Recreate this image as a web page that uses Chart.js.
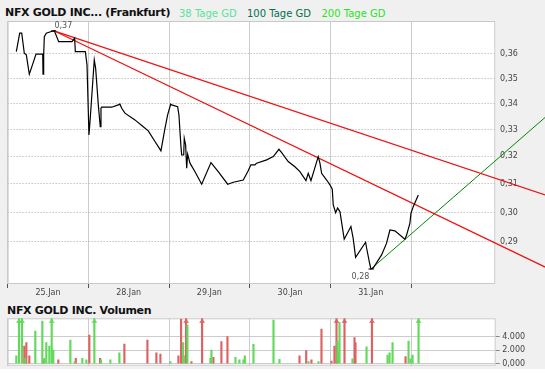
<!DOCTYPE html>
<html><head><meta charset="utf-8">
<script src="https://cdn.jsdelivr.net/npm/chart.js@4/dist/chart.umd.min.js"></script>
<style>
html,body{margin:0;padding:0;background:#fff;}
#wrap{position:relative;width:545px;height:384px;overflow:hidden;background:#fff;}
#bg{position:absolute;left:0;top:0;width:545px;height:369px;background:#f0f0f0;}
canvas{position:absolute;left:0;}
.t{position:absolute;font-family:"DejaVu Sans";white-space:nowrap;line-height:13px;}
.b{font-weight:bold;font-size:11px;letter-spacing:-0.3px;color:#111;}
.l{font-size:10px;}
</style></head><body>
<div id="wrap">
<div id="bg"></div>
<div class="t b" style="left:5px;top:6.4px;">NFX GOLD INC... (Frankfurt)</div>
<div class="t l" style="left:179px;top:6.7px;color:#55e39a;">38 Tage GD</div>
<div class="t l" style="left:247px;top:6.7px;color:#00704f;">100 Tage GD</div>
<div class="t l" style="left:321.5px;top:6.7px;color:#1ee61e;">200 Tage GD</div>
<div class="t b" style="left:7px;top:303.7px;">NFX GOLD INC. Volumen</div>
<canvas id="main" width="545" height="300" style="top:0"></canvas>
<canvas id="vol" width="545" height="84" style="top:300px"></canvas>
</div>
<script>
// ---- data ----
const dayLabels = ['25.Jan','28.Jan','29.Jan','30.Jan','31.Jan'];
const priceTicks = [0.29,0.30,0.31,0.32,0.33,0.34,0.35,0.36];
const priceX = [0.108,0.150,0.175,0.207,0.232,0.269,0.311,0.352,0.435,0.439,0.447,0.455,0.479,0.541,0.571,0.583,0.633,0.798,0.831,0.839,
  0.963,0.984,1.008,1.021,1.074,1.091,1.124,1.148,1.157,1.166,1.290,1.371,1.392,1.414,1.454,1.578,1.681,1.743,1.826,1.867,
  1.900,1.950,1.983,2.021,2.033,2.107,2.123,2.148,2.157,2.182,2.189,2.206,2.219,2.231,2.260,2.322,2.405,2.520,2.610,2.727,
  2.796,2.920,2.975,3.015,3.065,3.086,3.210,3.292,3.362,3.396,3.477,3.560,3.622,3.697,3.725,3.759,3.849,3.870,3.891,3.953,
  3.994,4.023,4.035,4.065,4.089,4.118,4.171,4.254,4.282,4.312,4.436,4.449,4.490,4.502,4.530,4.634,4.696,4.737,4.799,4.923,
  4.944,4.985,4.998,5.026,5.089];
const priceY = [0.3610,0.3687,0.3687,0.3603,0.3596,0.3517,0.3558,0.3599,0.3599,0.3517,0.3596,0.3672,0.3687,0.3694,0.3697,0.3694,0.3651,0.3651,0.3666,0.3610,
  0.3610,0.3555,0.3280,0.3330,0.3575,0.3541,0.3395,0.3311,0.3382,0.3386,0.3386,0.3395,0.3398,0.3382,0.3363,0.3337,0.3311,0.3295,0.3255,0.3236,
  0.3220,0.3305,0.3356,0.3398,0.3395,0.3388,0.3356,0.3236,0.3205,0.3205,0.3267,0.3242,0.3157,0.3208,0.3175,0.3144,0.3099,0.3177,0.3144,0.3099,
  0.3106,0.3114,0.3144,0.3169,0.3169,0.3175,0.3187,0.3199,0.3226,0.3214,0.3181,0.3162,0.3144,0.3112,0.3138,0.3112,0.3199,0.3175,0.3138,0.3114,
  0.3097,0.3081,0.3026,0.2999,0.3015,0.3003,0.2909,0.2952,0.2912,0.2849,0.2899,0.2879,0.2824,0.2811,0.2814,0.2857,0.2896,0.2940,0.2937,0.2909,
  0.2923,0.2963,0.2997,0.3020,0.3061];
const trendUpperX = [0.575, 6.695];
const trendUpperY = [0.3697, 0.3058];
const trendLowerX = [0.575, 6.695];
const trendLowerY = [0.3697, 0.2813];
const supportX = [4.502, 6.695];
const supportY = [0.2811, 0.3356];

const volTicks = [0, 2000, 4000];
const volTickLabels = ['0,000', '2.000', '4.000'];
const volUpX = [0.108,0.141,0.178,0.219,0.343,0.430,0.455,0.479,0.517,0.546,0.566,0.777,0.831,0.925,0.975,1.074,1.157,1.272,1.384,2.016,
  2.173,2.182,2.226,2.511,2.524,2.821,2.870,2.920,2.937,3.044,3.292,3.366,3.725,3.849,4.084,4.102,4.109,4.270,4.444,4.704,
  4.729,4.766,4.964,4.989,5.014,5.088];
const volUpY = [1140,8000,8000,800,4830,6300,800,3100,2600,8000,2000,3500,300,800,550,8000,550,550,1600,300,
  3100,1140,5700,800,2000,950,550,550,1140,2850,6450,650,300,300,3250,1920,6050,700,2500,1280,
  1600,3100,3350,700,1280,8000];
const volDownX = [0.207,0.232,0.269,0.439,0.628,0.844,1.012,1.145,1.446,1.731,1.842,1.892,2.115,2.148,2.210,2.276,2.408,2.548,2.647,2.722,
  3.614,3.697,3.762,3.886,4.010,4.047,4.072,4.171,4.295,4.307,4.511,4.927];
const volDownY = [2600,3100,1140,550,550,800,4240,800,2900,3500,1600,1430,1140,6600,8000,300,8000,950,3250,4000,
  1140,1920,550,5120,400,2600,8000,8000,3850,3100,8000,1030];

// ---- helpers ----
const pts = (xs, ys) => xs.map((x, i) => ({x: x, y: ys[i]}));
const fmt = v => v.toFixed(2).replace('.', ',');
Chart.defaults.font.family = 'DejaVu Sans';
Chart.defaults.font.size = 8;
Chart.defaults.color = '#444';

const frame = {
  id: 'frame',
  beforeDraw(chart) {
    const a = chart.chartArea, c = chart.ctx;
    c.save(); c.fillStyle = '#fff';
    c.fillRect(a.left, a.top, a.right - a.left, a.bottom - a.top);
    c.restore();
  },
  beforeDatasetsDraw(chart) {
    const a = chart.chartArea, c = chart.ctx;
    c.save(); c.strokeStyle = '#c8c8c8'; c.lineWidth = 1;
    c.strokeRect(a.left + 0.5, a.top + 0.5, a.right - a.left - 1, a.bottom - a.top - 1);
    c.restore();
  }
};

const xAxis = (show) => ({
  type: 'linear', min: 0, max: 6.043, bounds: 'data', offset: false,
  afterBuildTicks: s => { s.ticks = dayLabels.map((_, i) => ({value: i + 0.5})); },
  afterFit: s => { s.height = show ? 16 : 0; },
  ticks: {display: show, autoSkip: false, maxRotation: 0, padding: 0.5, color: '#444',
          callback: (v, i) => dayLabels[i]},
  grid: {offset: true, color: '#cccccc', lineWidth: 1, drawTicks: show, tickLength: 4, tickColor: '#555'},
  border: {display: false}
});

const extrema = {
  id: 'extrema',
  afterDatasetsDraw(chart) {
    const xs = chart.scales.x, ys = chart.scales.y, c = chart.ctx;
    let hi = 0, lo = 0;
    priceY.forEach((v, i) => { if (v > priceY[hi]) hi = i; if (v < priceY[lo]) lo = i; });
    const hx = xs.getPixelForValue(priceX[hi]), hy = ys.getPixelForValue(priceY[hi]);
    const lx = xs.getPixelForValue(priceX[lo]), ly = ys.getPixelForValue(priceY[lo]);
    c.save();
    c.strokeStyle = '#000'; c.lineWidth = 1;
    c.beginPath(); c.moveTo(hx - 2.5, hy); c.lineTo(hx + 2.5, hy);
    c.moveTo(lx - 2.5, ly); c.lineTo(lx + 3, ly); c.stroke();
    c.font = '8px "DejaVu Sans"'; c.fillStyle = '#555'; c.textBaseline = 'middle';
    c.textAlign = 'left'; c.fillText(fmt(priceY[hi]), hx + 0.8, hy - 4.5);
    c.textAlign = 'right'; c.fillText(fmt(priceY[lo]), lx - 1.5, ly + 7.5);
    c.restore();
  }
};

new Chart(document.getElementById('main'), {
  type: 'line',
  data: {datasets: [
    {data: pts(priceX, priceY), borderColor: '#000', borderWidth: 1.2, pointRadius: 0, tension: 0},
    {data: pts(trendUpperX, trendUpperY), borderColor: '#ee1111', borderWidth: 1.2, pointRadius: 0, clip: false},
    {data: pts(trendLowerX, trendLowerY), borderColor: '#ee1111', borderWidth: 1.2, pointRadius: 0, clip: false},
    {data: pts(supportX, supportY), borderColor: '#008800', borderWidth: 1, pointRadius: 0, clip: false}
  ]},
  options: {
    responsive: false, animation: false, devicePixelRatio: 1,
    layout: {padding: {left: 7.6, top: 21, right: 0, bottom: 0}},
    plugins: {legend: {display: false}, tooltip: {enabled: false}},
    scales: {
      x: xAxis(true),
      y: {
        type: 'logarithmic', position: 'right', min: 0.2763, max: 0.3739, bounds: 'data',
        afterBuildTicks: s => { s.ticks = priceTicks.map(v => ({value: v})); },
        afterFit: s => { s.width = 49.7; },
        ticks: {padding: 4.7, color: '#444', callback: v => fmt(v)},
        grid: {color: '#a8a8a8', lineWidth: 1, drawTicks: false},
        border: {display: false, dash: [1, 2]}
      }
    }
  },
  plugins: [frame, extrema]
});

const arrows = {
  id: 'arrows',
  afterDatasetsDraw(chart) {
    const xs = chart.scales.x, ys = chart.scales.y, c = chart.ctx, top = chart.chartArea.top;
    c.save();
    chart.data.datasets.forEach(ds => {
      c.fillStyle = ds.backgroundColor;
      ds.data.forEach(p => {
        if (p.y > ys.max) {
          const px = xs.getPixelForValue(p.x);
          c.beginPath(); c.moveTo(px - 3, top + 4.5); c.lineTo(px, top + 0.8); c.lineTo(px + 3, top + 4.5);
          c.closePath(); c.fill();
        }
      });
    });
    c.restore();
  }
};

new Chart(document.getElementById('vol'), {
  type: 'bar',
  data: {datasets: [
    {data: pts(volUpX, volUpY), backgroundColor: '#62d95a', barThickness: 1.5, grouped: false},
    {data: pts(volDownX, volDownY), backgroundColor: '#de6262', barThickness: 1.5, grouped: false}
  ]},
  options: {
    responsive: false, animation: false, devicePixelRatio: 1,
    layout: {padding: {left: 7.6, top: 18.3, right: 0, bottom: 18.3}},
    plugins: {legend: {display: false}, tooltip: {enabled: false}},
    scales: {
      x: xAxis(false),
      y: {
        type: 'linear', position: 'right', min: -300, max: 6700, bounds: 'data',
        afterBuildTicks: s => { s.ticks = volTicks.map(v => ({value: v})); },
        afterFit: s => { s.width = 49.3; },
        ticks: {padding: 2.5, color: '#444', callback: (v, i) => volTickLabels[i]},
        grid: {color: '#cccccc', lineWidth: 1, drawTicks: true, tickLength: 4, tickColor: '#888'},
        border: {display: false}
      }
    }
  },
  plugins: [frame, arrows]
});
</script>
</body></html>
